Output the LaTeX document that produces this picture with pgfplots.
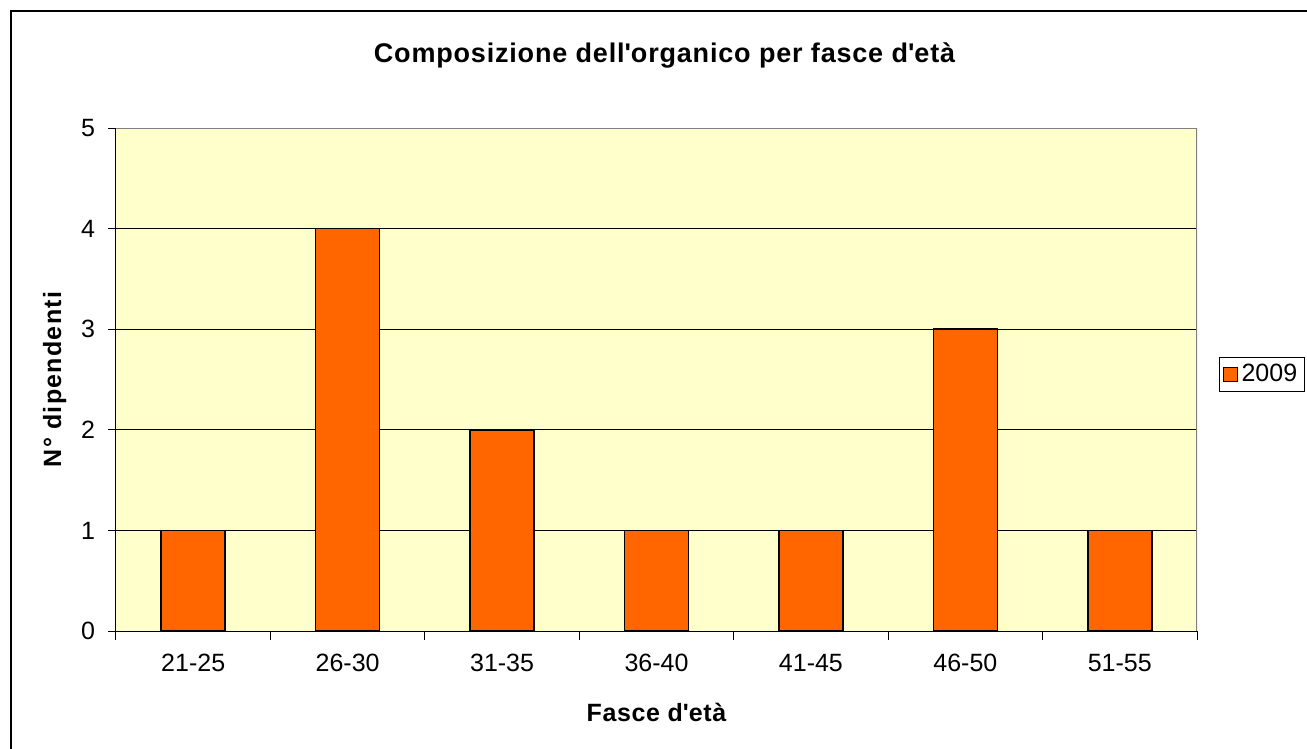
\documentclass[border=0pt]{standalone}
\usepackage{pgfplots}
\pgfplotsset{compat=1.18}
\usepackage{fontspec}
\setmainfont{Liberation Sans}
\definecolor{plotbg}{HTML}{FFFFCC}
\definecolor{barorange}{HTML}{FF6600}
\begin{document}
\begin{tikzpicture}
\useasboundingbox (0,0) rectangle (653.5pt,-374.5pt);
\draw[black, line width=0.6pt] (5.5pt,-5.5pt) rectangle (700pt,-420pt);
\begin{axis}[
  at={(58pt,-315.5pt)}, anchor=south west,
  scale only axis, width=540.5pt, height=251.5pt,
  xmin=-0.5, xmax=6.5, ymin=0, ymax=5,
  axis lines*=left,
  axis line style={black, line width=0.5pt},
  axis background/.style={fill=plotbg},
  xtick={0,...,6},
  xticklabels={21-25,26-30,31-35,36-40,41-45,46-50,51-55},
  minor xtick={-0.5,0.5,...,6.5},
  major x tick style={draw=none},
  minor tick length=4.5pt,
  ytick={0,...,5},
  major tick length=4pt,
  tick align=outside,
  tick style={black, line width=0.5pt},
  ymajorgrids, grid style={black, line width=0.5pt},
  /pgf/number format/assume math mode=true,
  font=\fontsize{12.5}{14}\selectfont,
  tick label style={font=\fontsize{12.5}{14}\selectfont},
  xticklabel style={yshift=-4pt},
  yticklabel style={xshift=-3pt},
  title={\bfseries\addfontfeatures{LetterSpace=3}Composizione dell\textquotesingle organico per fasce d\textquotesingle età},
  title style={at={(axis description cs:0.5074,1)}, anchor=center, yshift=30.5pt, font=\fontsize{13.5}{15}\selectfont},
  xlabel={\bfseries\addfontfeatures{LetterSpace=2.5}Fasce d\textquotesingle età},
  xlabel style={at={(axis description cs:0.5,0)}, anchor=center, yshift=-40.5pt},
  ylabel={\bfseries\addfontfeatures{LetterSpace=5}N° dipendenti},
  ylabel style={at={(axis description cs:-0.0587,0.5)}, anchor=center, yshift=-1pt},
  legend style={at={(axis description cs:1.0204,0.5447)}, anchor=north west, draw=black, line width=0.5pt, fill=white, inner sep=1.5pt, font=\fontsize{12.5}{14}\selectfont, legend cell align=left},
  legend image code/.code={\draw[#1, line width=0.5pt] (2pt,-3.5pt) rectangle (9pt,3.5pt);},
]
\addplot[ybar, bar width=32pt, fill=barorange, draw=black, line width=0.75pt] coordinates {(0,1) (1,4) (2,2) (3,1) (4,1) (5,3) (6,1)};
\addlegendentry{2009}
\draw[gray, line width=0.6pt] (rel axis cs:0,1) -- (rel axis cs:1,1) -- (rel axis cs:1,0);
\end{axis}
\end{tikzpicture}
\end{document}
